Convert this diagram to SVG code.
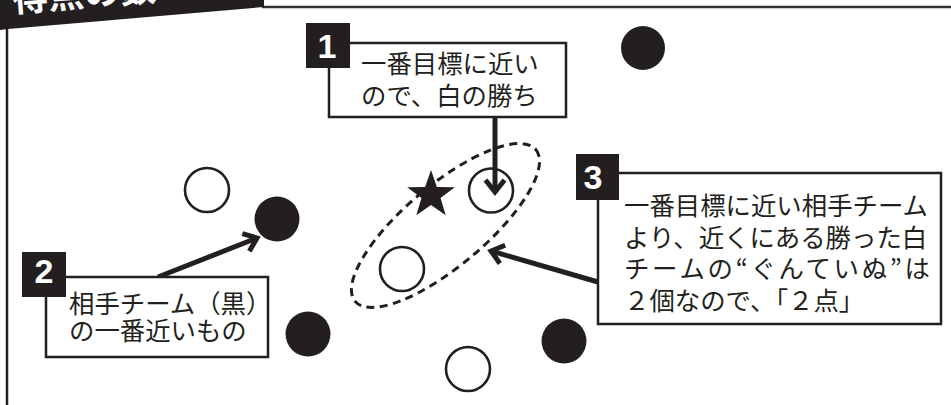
<svg xmlns="http://www.w3.org/2000/svg" width="951" height="405" viewBox="0 0 951 405">
<style>
.jp{font-family:"Noto Sans CJK JP","Noto Sans CJK SC",sans-serif;font-size:25.4px;fill:#231f20}
.box{fill:#fff;stroke:#231f20;stroke-width:2.5}
.tag{fill:#231f20}
.num{font-family:"Liberation Sans",Arial,sans-serif;font-weight:bold;font-size:34px;fill:#fff;text-anchor:middle}
.wc{fill:#fff;stroke:#231f20;stroke-width:2.6}
.bc{fill:#231f20}
.arr{stroke:#231f20;stroke-width:5;fill:none;marker-end:url(#ah)}
</style>
<defs>
<marker id="ah" markerUnits="userSpaceOnUse" viewBox="-20 -15 25 30" markerWidth="25" markerHeight="30" refX="0" refY="0" orient="auto">
<path d="M-12,-9.5 L0,0 L-12,9.5" fill="none" stroke="#231f20" stroke-width="5"/>
</marker>
</defs>
<rect width="951" height="405" fill="#fff"/>
<g id="frame">
<line x1="262" y1="7" x2="951" y2="7" stroke="#333" stroke-width="2.5"/>
<line x1="7" y1="29" x2="7" y2="405" stroke="#231f20" stroke-width="2.5"/>
<polygon points="0,0 264,0 264,7 8,29 0,30" fill="#231f20"/>
<text x="13" y="12" transform="rotate(-4.5 13 12)" font-family="'Noto Sans CJK JP',sans-serif" font-weight="bold" font-size="36" fill="#fff">得点の数</text>
</g>
<g id="group-ellipse">
<ellipse cx="445.5" cy="225.5" rx="118" ry="40.5" transform="rotate(-40 445.5 225.5)" fill="none" stroke="#231f20" stroke-width="3" stroke-dasharray="8 5.5"/>
</g>
<g id="stones">
<circle id="b1" class="bc" cx="643" cy="48" r="22"/>
<circle id="b2" class="bc" cx="277" cy="219" r="22.5"/>
<circle id="b3" class="bc" cx="308" cy="334" r="22.5"/>
<circle id="b4" class="bc" cx="564" cy="341" r="22.5"/>
<circle id="w1" class="wc" cx="207" cy="190" r="22"/>
<circle id="w2" class="wc" cx="491" cy="190.5" r="22"/>
<circle id="w3" class="wc" cx="402" cy="269" r="22"/>
<circle id="w4" class="wc" cx="468" cy="369" r="22"/>
</g>
<g id="star">
<polygon fill="#231f20" points="431,170 436.9,186.9 454.8,187.3 440.5,198.1 445.7,215.2 431,205 416.3,215.2 421.5,198.1 407.2,187.3 425.1,186.9"/>
</g>
<g id="connectors">
<line class="arr" x1="495" y1="117" x2="495" y2="192"/>
<line class="arr" x1="158" y1="277" x2="257" y2="238"/>
<line class="arr" x1="598" y1="282" x2="491" y2="251"/>
</g>
<g id="note1">
<rect class="box" x="329" y="43" width="237" height="74"/>
<rect class="tag" x="306" y="23" width="44" height="45"/>
<text class="num" x="327" y="58">1</text>
<text class="jp" x="361" y="73">一番目標に近い</text>
<text class="jp" x="361" y="105">ので、白の勝ち</text>
</g>
<g id="note2">
<rect class="box" x="46" y="277" width="222" height="80"/>
<rect class="tag" x="22" y="252" width="44" height="45"/>
<text class="num" x="44" y="283" font-size="32">2</text>
<text class="jp" x="69" y="313">相手チーム（黒）</text>
<text class="jp" x="69" y="340">の一番近いもの</text>
</g>
<g id="note3">
<rect class="box" x="598" y="173" width="343" height="151"/>
<rect class="tag" x="576" y="154" width="43" height="46"/>
<text class="num" x="593" y="189">3</text>
<text class="jp" x="624" y="215">一番目標に近い相手チーム</text>
<text class="jp" x="624" y="247">より、近くにある勝った白</text>
<text class="jp" x="624" y="278" textLength="306" lengthAdjust="spacing">チームの“ぐんていぬ”は</text>
<text class="jp" x="624" y="310">２個なので、「２点」</text>
</g>
</svg>
